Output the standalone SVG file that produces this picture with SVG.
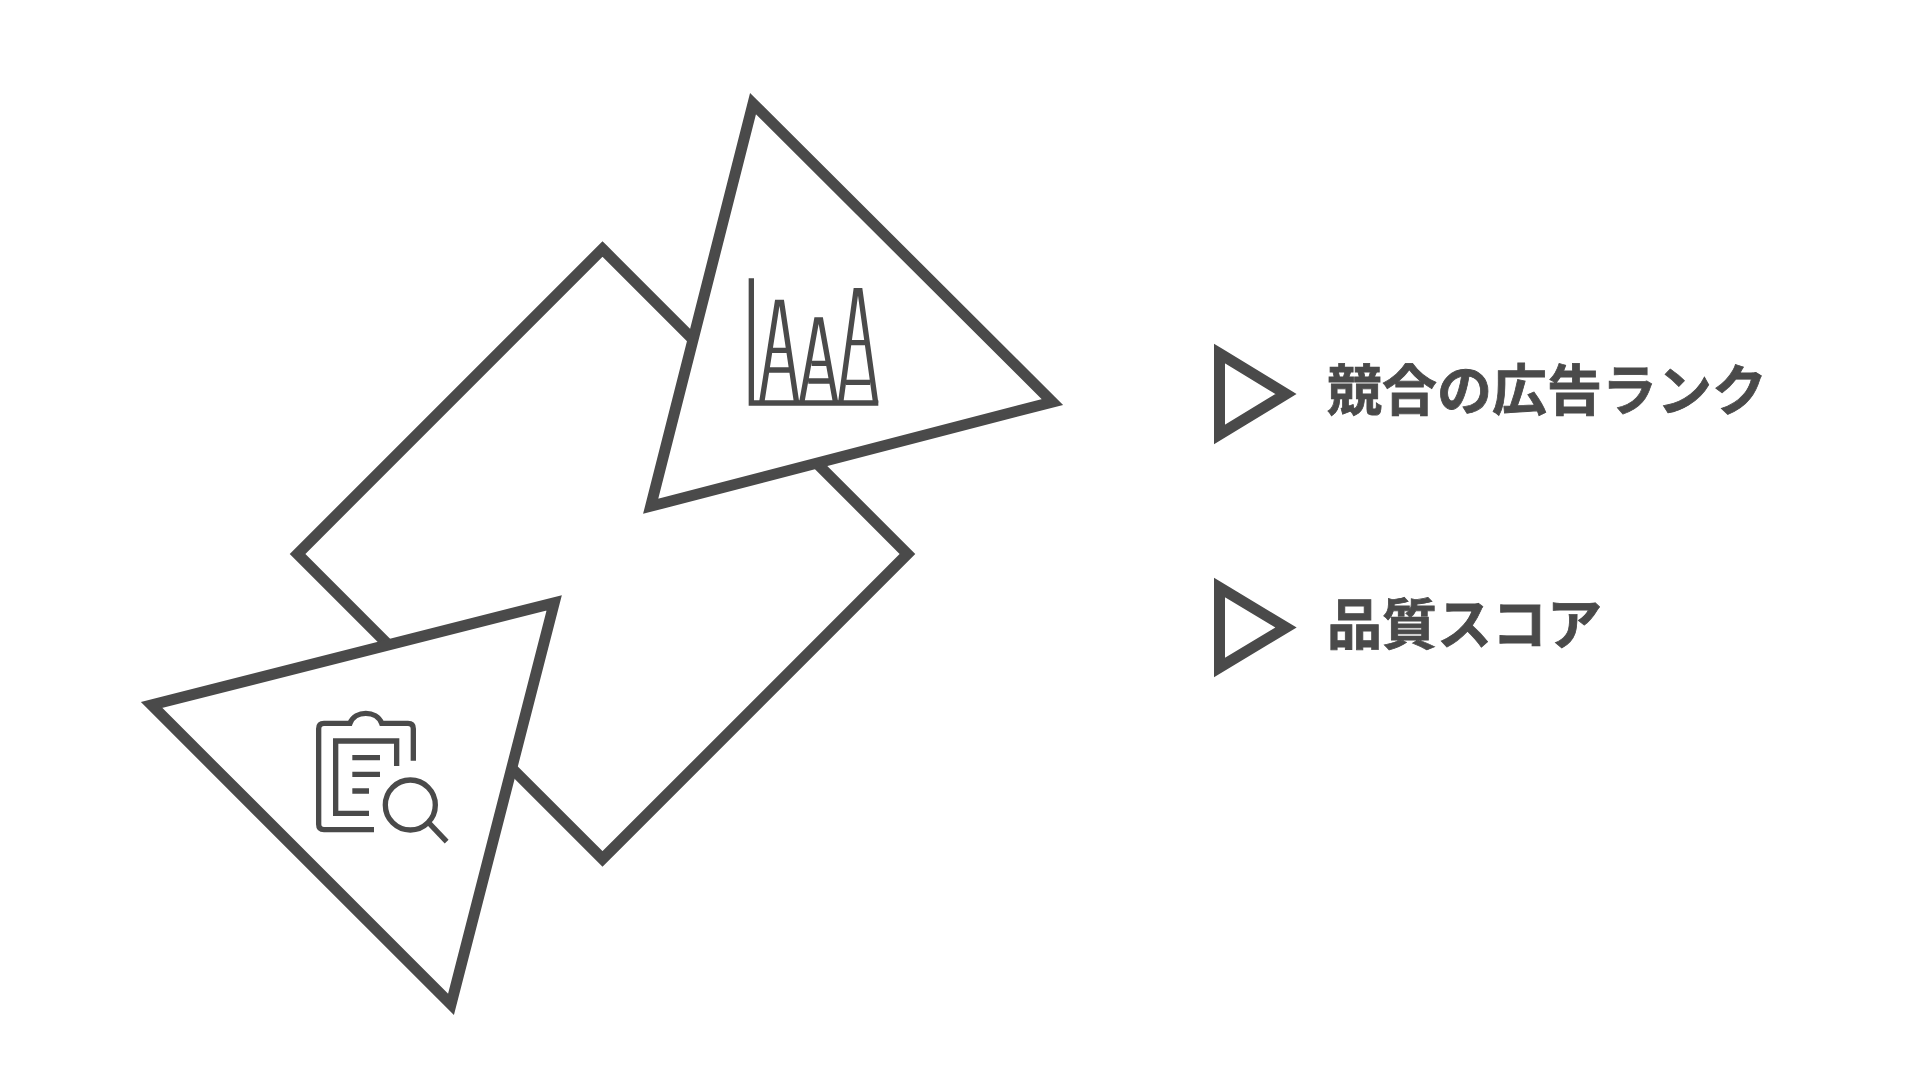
<svg xmlns="http://www.w3.org/2000/svg" width="1920" height="1080" viewBox="0 0 1920 1080">
<style>
.s{fill:#fff;stroke:#4a4a4a;stroke-width:11;stroke-miterlimit:10}
.m{fill:none;stroke:#4a4a4a;stroke-width:16;stroke-miterlimit:10}
.t{font-family:"Noto Sans CJK JP","Noto Sans",sans-serif;font-size:55px;font-weight:700;fill:#4a4a4a;stroke:#4a4a4a;stroke-width:.8}
</style>
<rect width="1920" height="1080" fill="#fff"/>
<g id="diamond"><polygon class="s" points="602.5,249 907.5,554 602.5,859 297.5,554"/></g>
<g id="triangle-top">
<polygon class="s" points="753,103.6 1052.4,402 650.7,506.2"/>
<g transform="translate(720 250) scale(.3333)">
<path class="m" d="M94 85V459H475"/>
<path class="m" d="M125 459L172 157H185L230 459M155 301H202M147 360H210"/>
<path class="m" d="M245 459L290 210H302L347 459M275 340H320M265 393H330"/>
<path class="m" d="M362 459L408 122H420L467 459M393 278H435M378 397H450"/>
</g>
</g>
<g id="triangle-bottom">
<polygon class="s" points="554.2,602.8 151.6,705 451,1004.4"/>
<g transform="translate(300 690) scale(.3333)">
<path class="m" d="M222 419H72Q56 419 56 403V116Q56 100 72 100H150C165 60 230 60 245 100H324Q340 100 340 116V212"/>
<path class="m" d="M207 370H107V153H290V228"/>
<path class="m" d="M157 203H240M157 253H240M157 303H207"/>
<circle class="m" cx="331" cy="345" r="75"/>
<path class="m" d="M388 400L440 455"/>
</g>
</g>
<g id="item-1">
<polygon class="s" points="1219.5,353.5 1286,394 1219.5,434.5"/>
<text class="t" x="1327" y="410">競合の広告ランク</text>
</g>
<g id="item-2">
<polygon class="s" points="1219.5,587.5 1286,627.5 1219.5,667.5"/>
<text class="t" x="1327" y="644">品質スコア</text>
</g>
</svg>
